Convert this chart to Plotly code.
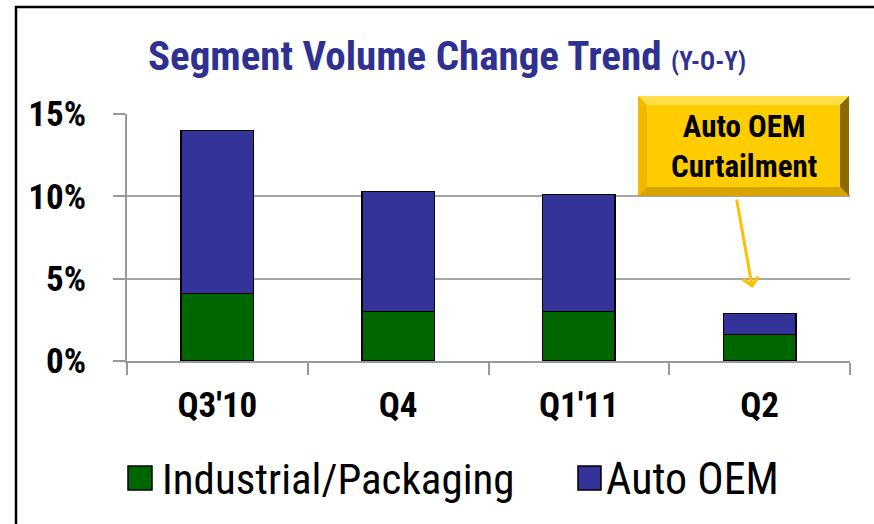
import plotly.graph_objects as go

categories = ["Q3'10", "Q4", "Q1'11", "Q2"]
industrial = [4.1, 3.0, 3.0, 1.6]
auto_oem = [9.9, 7.3, 7.1, 1.3]
y_ticks = [0, 5, 10, 15]
y_tick_labels = ["0%", "5%", "10%", "15%"]

GREEN = "#006600"
BLUE = "#333399"
NARROW = "Roboto Condensed, Liberation Sans Narrow, Arial Narrow, sans-serif"

W, H = 874, 524
L, R, T, B = 127, 24, 114, 163
PW, PH = W - L - R, H - T - B


def px(x):
    return (x - L) / PW


def py(y):
    return (H - B - y) / PH


fig = go.Figure()
fig.add_trace(go.Bar(x=categories, y=industrial, name="Industrial/Packaging",
                     marker=dict(color=GREEN, line=dict(color="black", width=1.5)),
                     width=0.4, showlegend=False))
fig.add_trace(go.Bar(x=categories, y=auto_oem, name="Auto OEM",
                     marker=dict(color=BLUE, line=dict(color="black", width=1.5)),
                     width=0.4, showlegend=False))

shapes = []
# outer frame
shapes.append(dict(type="rect", xref="paper", yref="paper",
                   x0=px(16), x1=px(W * 3), y0=py(7), y1=py(H * 3),
                   line=dict(color="black", width=2.5), fillcolor="rgba(0,0,0,0)", layer="below"))

# bevelled callout box
bx0, bx1, by0, by1 = 638, 849, 96, 196
bev = 9
shapes.append(dict(type="rect", xref="paper", yref="paper",
                   x0=px(bx0), x1=px(bx1), y0=py(by1), y1=py(by0),
                   fillcolor="#FFCC00", line=dict(width=0)))


def poly(pts, color):
    d = "M " + " L ".join(f"{px(a):.5f},{py(b):.5f}" for a, b in pts) + " Z"
    return dict(type="path", xref="paper", yref="paper", path=d,
                fillcolor=color, line=dict(width=0))


shapes.append(poly([(bx0, by0), (bx1, by0), (bx1 - bev, by0 + bev), (bx0 + bev, by0 + bev)], "#FFE04A"))
shapes.append(poly([(bx0, by0), (bx0 + bev, by0 + bev), (bx0 + bev, by1 - bev), (bx0, by1)], "#F2B800"))
shapes.append(poly([(bx1, by0), (bx1, by1), (bx1 - bev, by1 - bev), (bx1 - bev, by0 + bev)], "#8C6A00"))
shapes.append(poly([(bx0, by1), (bx0 + bev, by1 - bev), (bx1 - bev, by1 - bev), (bx1, by1)], "#D9A300"))

# manual legend squares
shapes.append(dict(type="rect", xref="paper", yref="paper",
                   x0=px(128), x1=px(152), y0=py(490), y1=py(466),
                   fillcolor=GREEN, line=dict(color="black", width=1.5)))
shapes.append(dict(type="rect", xref="paper", yref="paper",
                   x0=px(578), x1=px(601), y0=py(490), y1=py(466),
                   fillcolor=BLUE, line=dict(color="black", width=1.5)))

annotations = [
    dict(xref="paper", yref="paper", x=px((bx0 + bx1) / 2), y=py((by0 + by1) / 2),
         text="<b>Auto OEM<br>Curtailment</b>", showarrow=False,
         font=dict(family=NARROW, size=31, color="black"), xanchor="center", yanchor="middle"),
    dict(x=2.96, y=4.43, xref="x", yref="y", text="", showarrow=True,
         ax=-16, ay=-90, axref="pixel", ayref="pixel",
         arrowhead=4, arrowsize=1, arrowwidth=3, arrowcolor="#FFC000", standoff=0),
    dict(xref="paper", yref="paper", x=px(160), y=py(479), text="Industrial/Packaging",
         showarrow=False, xanchor="left", yanchor="middle",
         font=dict(family=NARROW, size=43, color="black")),
    dict(xref="paper", yref="paper", x=px(604), y=py(479), text="Auto OEM",
         showarrow=False, xanchor="left", yanchor="middle",
         font=dict(family=NARROW, size=44, color="black")),
]

fig.update_layout(
    barmode="stack",
    width=W, height=H,
    margin=dict(l=L, r=R, t=T, b=B),
    paper_bgcolor="white", plot_bgcolor="white",
    title=dict(text="<b>Segment Volume Change Trend <span style='font-size:25px'>(Y-O-Y)</span></b>",
               x=447 / W, xanchor="center", y=1 - 56 / H, yanchor="middle", yref="container",
               font=dict(family=NARROW, size=41, color="#2E3192")),
    shapes=shapes,
    annotations=annotations,
    showlegend=False,
)
fig.update_xaxes(
    type="category", tickson="boundaries", ticks="outside", ticklen=12,
    tickcolor="#999999", tickwidth=2, showgrid=False, showline=True,
    linecolor="#999999", linewidth=2,
    tickfont=dict(family=NARROW, size=35, color="black"),
    ticklabelstandoff=12, tickprefix="<b>", ticksuffix="</b>",
)
fig.update_yaxes(
    range=[0, 15], tickvals=y_ticks, ticktext=[f"<b>{t}</b>" for t in y_tick_labels],
    ticks="outside", ticklen=12, tickcolor="#999999", tickwidth=2,
    showgrid=True, gridcolor="#A6A6A6", gridwidth=2,
    showline=True, linecolor="#999999", linewidth=2, zeroline=False,
    tickfont=dict(family=NARROW, size=35, color="black"),
    ticklabelstandoff=20,
)

fig.write_html("out.html", config={"displayModeBar": False},
               post_script="document.body.style.margin='0';")
